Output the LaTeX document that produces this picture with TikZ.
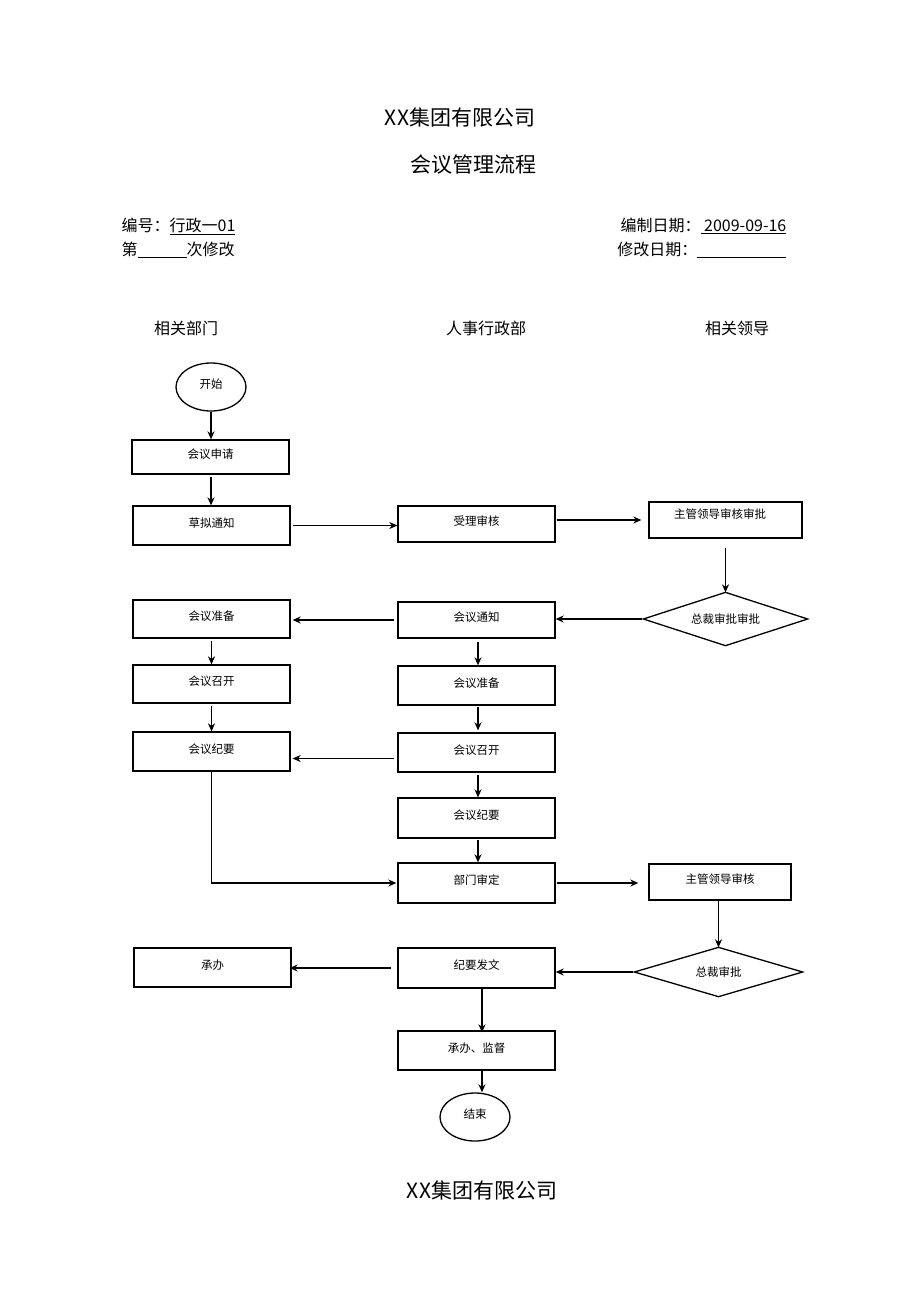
\documentclass[tikz,border=0pt]{standalone}
\usepackage{fontspec}
\setmainfont{Noto Sans CJK SC}
\usetikzlibrary{shapes.geometric,arrows.meta,calc}
\begin{document}
\begin{tikzpicture}[x=1pt,y=-1pt,line width=1.3pt,
  lbl/.style={font=\fontsize{11.5}{13}\selectfont,text height=8pt,text depth=5pt},
  box/.style={draw,rectangle,minimum width=157pt,minimum height=39pt,inner sep=0pt,lbl},
  oval/.style={draw,ellipse,minimum width=70pt,minimum height=48pt,inner sep=0pt,lbl},
  dia/.style={rectangle,inner sep=0pt,font=\fontsize{11.5}{13}\selectfont},
  lane/.style={font=\fontsize{16}{18}\selectfont},
  head/.style={font=\fontsize{16}{18}\selectfont,inner sep=0pt},
  ttl/.style={font=\fontsize{21}{24}\selectfont},
  arr/.style={-{Stealth[length=8pt,width=7pt,inset=2.5pt]}}]
\useasboundingbox (0,0) rectangle (920,1302);

% titles
\node[ttl] (t1) at (460,117) {XX集团有限公司};
\node[ttl] (t2) at (473,165) {会议管理流程};
\node[ttl] (t3) at (482,1190) {XX集团有限公司};

% header
\node[head,anchor=west] (h1) at (121,226) {编号：\underline{行政一01}};
\node[head,anchor=west] (h2) at (121,250) {第\underline{\hspace{49pt}}次修改};
\node[head,anchor=east] (h3) at (787,226) {编制日期：\underline{\ 2009-09-16}};
\node[head,anchor=east] (h4) at (787,250) {修改日期：\underline{\hspace{89pt}}};

% lanes
\node[lane] (l1) at (186,328) {相关部门};
\node[lane] (l2) at (486,328) {人事行政部};
\node[lane] (l3) at (737,328) {相关领导};

% nodes
\node[oval] (start) at (211,387) {开始};
\node[box,minimum height=34pt] (req) at (210.5,457) {会议申请};
\node[box] (draft) at (211.5,525.5) {草拟通知};
\node[box,minimum height=36pt] (accept) at (476.5,524) {受理审核};
\node[box,minimum width=153pt,minimum height=36pt] (lead1) at (725.5,520) {};
\node[font=\fontsize{11.5}{13}\selectfont] (lead1t) at (720,514) {主管领导审核审批};
\node[dia,minimum width=163pt,minimum height=52pt] (d1) at (725.5,619) {总裁审批审批};
\draw (d1.north) -- (d1.east) -- (d1.south) -- (d1.west) -- cycle;
\node[box,minimum height=38pt] (prepL) at (211.5,619) {会议准备};
\node[box,minimum height=36pt] (notice) at (476.5,620) {会议通知};
\node[box,minimum height=38pt] (openL) at (211.5,684) {会议召开};
\node[box] (prepM) at (476.5,685.5) {会议准备};
\node[box] (minL) at (211.5,751.5) {会议纪要};
\node[box] (openM) at (476.5,752.5) {会议召开};
\node[box,minimum height=40pt] (minM) at (476.5,818) {会议纪要};
\node[box,minimum height=40pt] (dept) at (476.5,883) {部门审定};
\node[box,minimum width=142pt,minimum height=36pt] (lead2) at (720,882) {主管领导审核};
\node[box] (undertake) at (212.5,967.5) {承办};
\node[box,minimum height=40pt] (issue) at (476.5,968) {纪要发文};
\node[dia,minimum width=167pt,minimum height=48pt] (d2) at (718.5,972) {总裁审批};
\draw (d2.north) -- (d2.east) -- (d2.south) -- (d2.west) -- cycle;
\node[box] (sup) at (476.5,1050.5) {承办、监督};
\node[oval] (end) at (475,1117) {结束};

% connectors
\draw[arr] (start.south) -- (start.south |- req.north);
\draw[arr,shorten <=2pt] (211,0 |- req.south) coordinate (a1) -- (a1 |- draft.north);
\draw[arr,shorten <=2pt] (draft.east) -- (draft.east -| accept.west);
\draw[arr,shorten <=1pt,shorten >=7pt] ([yshift=4pt]accept.east) -- ([yshift=4pt]accept.east -| lead1.west);
\draw[arr,shorten <=9pt] (d1.north |- lead1.south) -- (d1.north);
\draw[arr,shorten <=1pt] (d1.west) -- (d1.west -| notice.east);
\draw[arr,shorten <=3pt,shorten >=2pt] (notice.west) -- (notice.west -| prepL.east);
\draw[arr,shorten <=2pt] (prepL.south) -- (prepL.south |- openL.north);
\draw[arr,shorten <=3pt] ([xshift=1.5pt]notice.south) -- ([xshift=1.5pt]notice.south |- prepM.north);
\draw[arr,shorten <=2pt] (openL.south) -- (openL.south |- minL.north);
\draw[arr,shorten <=1pt,shorten >=2pt] ([xshift=1.5pt]prepM.south) -- ([xshift=1.5pt]prepM.south |- openM.north);
\draw[arr,shorten <=3pt,shorten >=2pt] ([yshift=-6pt]openM.west) -- ([yshift=-6pt]openM.west -| minL.east);
\draw[arr,shorten <=2pt] ([xshift=1.5pt]openM.south) -- ([xshift=1.5pt]openM.south |- minM.north);
\draw[arr,shorten <=1pt] ([xshift=1.5pt]minM.south) -- ([xshift=1.5pt]minM.south |- dept.north);
\draw[arr,shorten >=1pt] (minL.south) |- (dept.west);
\draw[arr,shorten <=1pt,shorten >=10pt] (dept.east) -- (dept.east -| lead2.west);
\draw[arr] ([xshift=-1.5pt]lead2.south) -- ([xshift=-1.5pt]lead2.south |- d2.north);
\draw[arr,shorten <=1pt] (d2.west) -- (d2.west -| issue.east);
\draw[arr,shorten <=6pt,shorten >=-2pt] (issue.west) -- (issue.west -| undertake.east);
\draw[arr,shorten >=-2pt] ([xshift=5.5pt]issue.south) -- ([xshift=5.5pt]issue.south |- sup.north);
\draw[arr] ([xshift=5.5pt]sup.south) -- ([xshift=5.5pt]sup.south |- end.north);
\end{tikzpicture}
\end{document}
